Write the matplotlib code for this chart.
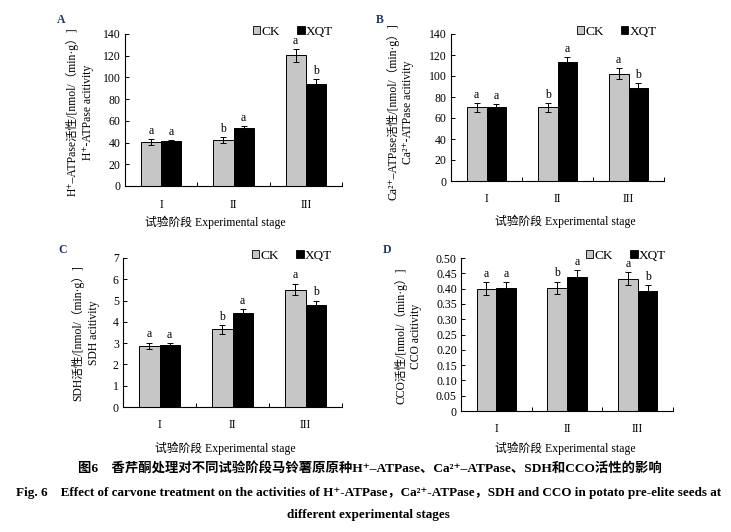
import numpy as np
import matplotlib
matplotlib.use('Agg')
from matplotlib import pyplot as plt
from matplotlib.patches import Patch

plt.rcParams['font.family'] = ['Liberation Serif', 'DejaVu Serif', 'Noto Sans CJK SC']
plt.rcParams['axes.linewidth'] = 0.8

stages = ['I', 'II', 'III']

# A - H+-ATPase
h_ck = [40.2, 42.3, 120.2]
h_ck_err = [2.8, 2.6, 6.0]
h_xqt = [41.0, 53.0, 94.0]
h_xqt_err = [1.6, 2.0, 4.3]
h_ck_sig = ['a', 'b', 'a']
h_xqt_sig = ['a', 'a', 'b']

# B - Ca2+-ATPase
ca_ck = [70.0, 70.0, 102.0]
ca_ck_err = [4.0, 4.0, 5.2]
ca_xqt = [70.0, 113.0, 89.0]
ca_xqt_err = [3.5, 5.3, 4.6]
ca_ck_sig = ['a', 'b', 'a']
ca_xqt_sig = ['a', 'a', 'b']

# C - SDH
sdh_ck = [2.88, 3.65, 5.52]
sdh_ck_err = [0.15, 0.20, 0.28]
sdh_xqt = [2.89, 4.40, 4.77]
sdh_xqt_err = [0.11, 0.21, 0.23]
sdh_ck_sig = ['a', 'b', 'a']
sdh_xqt_sig = ['a', 'a', 'b']

# D - CCO
cco_ck = [0.400, 0.403, 0.433]
cco_ck_err = [0.021, 0.020, 0.022]
cco_xqt = [0.401, 0.439, 0.392]
cco_xqt_err = [0.020, 0.021, 0.020]
cco_ck_sig = ['a', 'b', 'a']
cco_xqt_sig = ['a', 'a', 'b']

W, H = 731, 532
fig = plt.figure(figsize=(W / 100, H / 100), dpi=100)
cjk = ['Liberation Serif', 'Noto Sans CJK SC', 'DejaVu Serif']
navy = '#1d3566'


def px_axes(l, t, r, b):
    return fig.add_axes([l / W, 1 - b / H, (r - l) / W, (b - t) / H])


def panel(ax, ck, ck_err, xqt, xqt_err, ck_sig, xqt_sig, ymax, step, fmt):
    x = np.arange(len(stages))
    bw = 0.28
    ax.bar(x - bw / 2, ck, bw, color='#c6c6c6', edgecolor='black', linewidth=0.7,
           yerr=ck_err, error_kw=dict(ecolor='black', elinewidth=0.7, capsize=2.5, capthick=0.7))
    ax.bar(x + bw / 2, xqt, bw, color='black', edgecolor='black', linewidth=0.7,
           yerr=xqt_err, error_kw=dict(ecolor='black', elinewidth=0.7, capsize=2.5, capthick=0.7))
    for i in range(len(stages)):
        ax.annotate(ck_sig[i], (x[i] - bw / 2, ck[i] + ck_err[i]), xytext=(0, 1.5),
                    textcoords='offset points', ha='center', va='bottom', fontsize=8.5)
        ax.annotate(xqt_sig[i], (x[i] + bw / 2, xqt[i] + xqt_err[i]), xytext=(0, 1.5),
                    textcoords='offset points', ha='center', va='bottom', fontsize=8.5)
    ax.set_xlim(-0.5, len(stages) - 0.5)
    ax.set_ylim(0, ymax)
    ticks = np.arange(0, ymax + step / 2, step)
    ax.set_yticks(ticks)
    ax.set_yticklabels(['0' if t == 0 else fmt.format(t) for t in ticks], fontsize=8.5)
    ax.set_xticks(x)
    ax.set_xticklabels(stages, fontsize=8.5)
    ax.set_xticks(np.arange(0.5, len(stages) - 0.4, 1.0), minor=True)
    ax.tick_params(axis='x', which='major', length=0, pad=9)
    ax.tick_params(axis='x', which='minor', direction='in', length=3, width=0.7)
    ax.tick_params(axis='y', direction='in', length=3, width=0.7, pad=3)
    ax.spines['top'].set_visible(False)
    ax.spines['right'].set_visible(False)
    handles = [Patch(facecolor='#c6c6c6', edgecolor='black', linewidth=0.6, label='CK'),
               Patch(facecolor='black', edgecolor='black', linewidth=0.6, label='XQT')]
    ax.legend(handles=handles, loc='lower left', bbox_to_anchor=(0.59, 0.975), ncol=2,
              frameon=False, fontsize=9.5, handlelength=0.55, handleheight=0.55,
              handletextpad=0.1, columnspacing=1.3, borderaxespad=0, borderpad=0)


axA = px_axes(125, 34, 342, 186)
panel(axA, h_ck, h_ck_err, h_xqt, h_xqt_err, h_ck_sig, h_xqt_sig, 140, 20, '{:.0f}')
axB = px_axes(451, 34, 664, 181)
panel(axB, ca_ck, ca_ck_err, ca_xqt, ca_xqt_err, ca_ck_sig, ca_xqt_sig, 140, 20, '{:.0f}')
axC = px_axes(123, 258, 342, 407)
panel(axC, sdh_ck, sdh_ck_err, sdh_xqt, sdh_xqt_err, sdh_ck_sig, sdh_xqt_sig, 7, 1, '{:.0f}')
axD = px_axes(461, 258, 673, 411)
panel(axD, cco_ck, cco_ck_err, cco_xqt, cco_xqt_err, cco_ck_sig, cco_xqt_sig, 0.5, 0.05, '{:.2f}')

# panel letters
for lab, (px, py) in zip('ABCD', [(61, 20), (380, 20), (63, 250), (387, 250)]):
    fig.text(px / W, 1 - py / H, lab, fontsize=8.5, fontweight='bold', color=navy,
             ha='center', va='center')

# y labels (two lines each)
ylabs = [
    ('H⁺–ATPase活性/[nmol/（min·g）]', 'H⁺-ATPase acitivity', 72, 88, 112),
    ('Ca²⁺–ATPase活性/[nmol/（min·g）]', 'Ca²⁺-ATPase acitivity', 393, 408, 112),
    ('SDH活性/[nmol/（min·g）]', 'SDH acitivity', 78, 94, 333),
    ('CCO活性/[nmol/（min·g）]', 'CCO acitivity', 401, 416, 336),
]
for l1, l2, x1, x2, yc in ylabs:
    fig.text(x1 / W, 1 - yc / H, l1, rotation=90, fontsize=8.4, family=cjk,
             ha='center', va='center')
    fig.text(x2 / W, 1 - yc / H, l2, rotation=90, fontsize=8.4, family=cjk,
             ha='center', va='center')

# x labels
for xc, yc in [(215, 222), (565, 221), (225, 448), (565, 448)]:
    fig.text(xc / W, 1 - yc / H, '试验阶段 Experimental stage', fontsize=8.5, family=cjk,
             ha='center', va='center')

# caption
fig.text(370 / W, 1 - 469 / H,
         '图6　香芹酮处理对不同试验阶段马铃薯原原种H⁺–ATPase、Ca²⁺–ATPase、SDH和CCO活性的影响',
         fontsize=9.6, fontweight='bold', family=cjk, ha='center', va='center')
fig.text(369 / W, 1 - 493 / H,
         'Fig. 6    Effect of carvone treatment on the activities of H⁺-ATPase，Ca²⁺-ATPase，SDH and CCO in potato pre-elite seeds at',
         fontsize=9.45, fontweight='bold', family=cjk, ha='center', va='center')
fig.text(368 / W, 1 - 515 / H, 'different experimental stages',
         fontsize=9.45, fontweight='bold', family=cjk, ha='center', va='center')

fig.savefig('out.png', dpi=100)
